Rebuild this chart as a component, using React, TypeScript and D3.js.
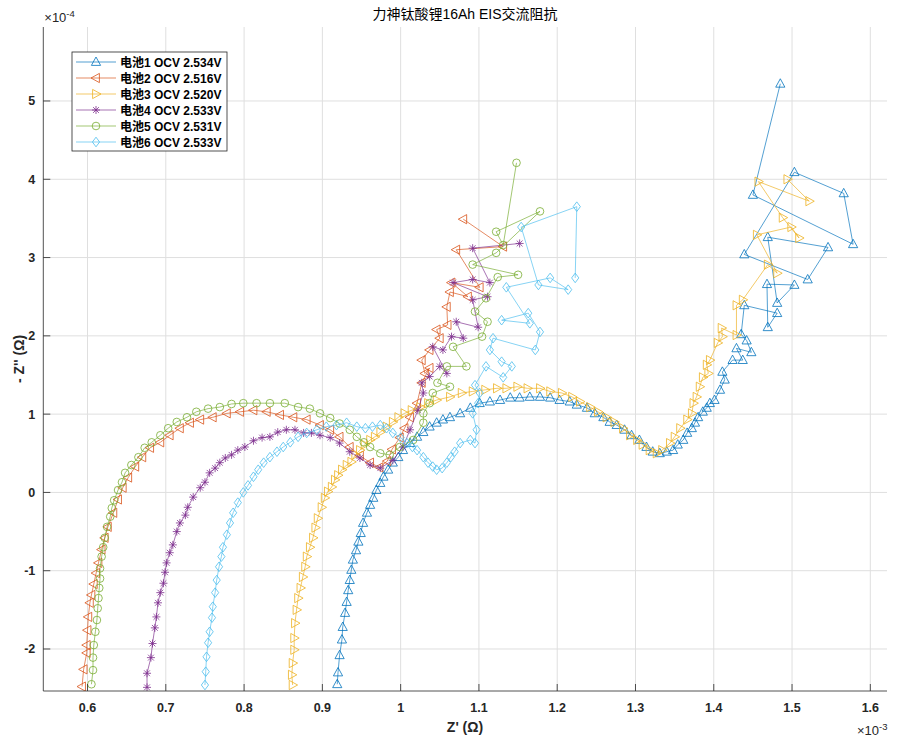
import React, { useRef, useEffect } from 'react';
import * as d3 from 'd3';

// Z' in 1e-3 ohm, -Z'' in 1e-4 ohm
const cell1: [number, number][] = [
  [0.919, -2.45], [0.920, -2.30], [0.922, -2.08], [0.925, -1.88], [0.926, -1.72], [0.929, -1.54], [0.931, -1.40],
  [0.933, -1.25], [0.935, -1.12], [0.937, -0.99], [0.939, -0.86], [0.943, -0.74], [0.946, -0.63], [0.949, -0.52],
  [0.952, -0.39], [0.957, -0.26], [0.961, -0.16], [0.965, -0.07], [0.969, 0.03], [0.974, 0.12], [0.978, 0.20],
  [0.984, 0.29], [0.990, 0.38], [0.997, 0.45], [1.003, 0.54], [1.012, 0.63], [1.021, 0.71], [1.029, 0.77],
  [1.037, 0.84], [1.046, 0.89], [1.054, 0.93], [1.063, 0.96], [1.076, 1.01], [1.089, 1.08], [1.101, 1.14],
  [1.114, 1.16], [1.127, 1.18], [1.140, 1.21], [1.152, 1.21], [1.165, 1.22], [1.178, 1.22], [1.191, 1.21],
  [1.203, 1.18], [1.216, 1.16], [1.225, 1.12], [1.238, 1.08], [1.248, 1.01], [1.259, 0.96], [1.267, 0.90],
  [1.276, 0.86], [1.286, 0.80], [1.295, 0.73], [1.305, 0.67], [1.314, 0.58], [1.322, 0.52], [1.331, 0.50],
  [1.340, 0.52], [1.348, 0.54], [1.354, 0.61], [1.361, 0.67], [1.366, 0.76], [1.372, 0.82], [1.376, 0.89],
  [1.380, 0.96], [1.386, 1.03], [1.391, 1.08], [1.395, 1.14], [1.401, 1.18], [1.408, 1.31], [1.414, 1.44],
  [1.411, 1.54], [1.424, 1.69], [1.437, 1.69], [1.429, 1.84], [1.448, 1.79], [1.442, 1.94], [1.435, 2.02],
  [1.439, 2.39], [1.481, 2.29], [1.469, 2.11], [1.468, 2.66], [1.503, 2.65], [1.481, 2.42], [1.469, 3.26],
  [1.546, 3.13], [1.520, 2.72], [1.439, 3.04], [1.503, 4.09], [1.566, 3.82], [1.578, 3.17], [1.450, 3.80],
  [1.485, 5.22],
];

const cell2: [number, number][] = [
  [0.593, -2.48], [0.595, -2.26], [0.599, -2.05], [0.599, -1.95], [0.600, -1.76], [0.601, -1.59], [0.603, -1.41],
  [0.605, -1.31], [0.608, -1.17], [0.611, -1.03], [0.614, -0.90], [0.618, -0.73], [0.622, -0.58], [0.626, -0.44],
  [0.633, -0.26], [0.639, -0.09], [0.645, 0.06], [0.652, 0.19], [0.661, 0.33], [0.670, 0.45], [0.680, 0.57],
  [0.693, 0.64], [0.705, 0.73], [0.718, 0.82], [0.731, 0.89], [0.744, 0.93], [0.760, 0.96], [0.778, 1.01],
  [0.795, 1.03], [0.812, 1.05], [0.829, 1.03], [0.846, 0.99], [0.863, 0.96], [0.880, 0.93], [0.897, 0.86],
  [0.910, 0.80], [0.922, 0.71], [0.935, 0.58], [0.948, 0.47], [0.961, 0.38], [0.973, 0.32], [0.983, 0.40],
  [0.989, 0.55], [0.999, 0.70], [1.005, 0.82], [1.012, 0.96], [1.021, 1.14], [1.027, 1.40], [1.037, 1.59],
  [1.031, 1.52], [1.027, 1.69], [1.037, 1.82], [1.050, 1.97], [1.046, 2.08], [1.060, 2.14], [1.059, 2.37],
  [1.063, 2.56], [1.086, 2.50], [1.065, 2.68], [1.101, 2.62], [1.071, 3.10], [1.131, 3.14], [1.080, 3.49],
];

const cell3: [number, number][] = [
  [0.862, -2.46], [0.861, -2.33], [0.862, -2.18], [0.864, -2.01], [0.864, -1.86], [0.865, -1.67], [0.867, -1.50],
  [0.869, -1.35], [0.872, -1.22], [0.875, -1.08], [0.878, -0.95], [0.880, -0.82], [0.884, -0.70], [0.888, -0.58],
  [0.891, -0.45], [0.894, -0.33], [0.899, -0.19], [0.903, -0.07], [0.907, 0.01], [0.912, 0.07], [0.916, 0.16],
  [0.920, 0.22], [0.925, 0.29], [0.931, 0.35], [0.937, 0.39], [0.942, 0.48], [0.948, 0.54], [0.954, 0.61],
  [0.961, 0.67], [0.967, 0.71], [0.974, 0.77], [0.982, 0.84], [0.990, 0.90], [0.997, 0.96], [1.005, 1.01],
  [1.014, 1.05], [1.025, 1.09], [1.035, 1.14], [1.046, 1.18], [1.063, 1.22], [1.078, 1.27], [1.092, 1.29],
  [1.108, 1.31], [1.123, 1.33], [1.135, 1.33], [1.149, 1.35], [1.162, 1.33], [1.178, 1.33], [1.191, 1.29],
  [1.206, 1.27], [1.219, 1.22], [1.229, 1.16], [1.242, 1.09], [1.252, 1.03], [1.263, 0.96], [1.273, 0.90],
  [1.284, 0.82], [1.293, 0.73], [1.302, 0.67], [1.309, 0.61], [1.318, 0.54], [1.327, 0.50], [1.334, 0.54],
  [1.344, 0.63], [1.350, 0.71], [1.357, 0.82], [1.366, 0.93], [1.372, 1.01], [1.374, 1.14], [1.378, 1.22],
  [1.382, 1.35], [1.386, 1.47], [1.393, 1.52], [1.391, 1.63], [1.395, 1.69], [1.405, 1.91], [1.411, 1.99],
  [1.410, 2.10], [1.429, 2.01], [1.429, 2.39], [1.437, 2.46], [1.469, 2.91], [1.481, 2.80], [1.455, 3.29],
  [1.499, 3.39], [1.509, 3.25], [1.488, 3.51], [1.457, 3.97], [1.522, 3.72], [1.494, 4.00],
];

const cell4: [number, number][] = [
  [0.676, -2.49], [0.676, -2.31], [0.681, -2.11], [0.683, -1.93], [0.686, -1.73], [0.688, -1.59], [0.690, -1.41],
  [0.693, -1.28], [0.697, -1.16], [0.699, -1.02], [0.701, -0.90], [0.705, -0.77], [0.709, -0.67], [0.714, -0.50],
  [0.718, -0.39], [0.725, -0.29], [0.728, -0.19], [0.735, -0.06], [0.744, 0.06], [0.750, 0.13], [0.756, 0.25],
  [0.763, 0.31], [0.769, 0.38], [0.776, 0.44], [0.784, 0.48], [0.792, 0.54], [0.801, 0.58], [0.812, 0.66],
  [0.823, 0.70], [0.833, 0.71], [0.843, 0.77], [0.854, 0.80], [0.865, 0.80], [0.876, 0.76], [0.886, 0.76],
  [0.897, 0.73], [0.910, 0.70], [0.922, 0.63], [0.935, 0.52], [0.948, 0.44], [0.961, 0.35], [0.974, 0.31],
  [0.990, 0.41], [1.003, 0.58], [1.012, 0.80], [1.022, 1.05], [1.029, 1.27], [1.027, 1.40], [1.037, 1.48],
  [1.050, 1.61], [1.059, 1.52], [1.041, 1.86], [1.054, 1.82], [1.065, 1.99], [1.080, 1.97], [1.071, 2.18],
  [1.099, 2.11], [1.092, 2.46], [1.111, 2.50], [1.067, 2.68], [1.092, 2.72], [1.114, 2.68], [1.092, 3.12],
  [1.152, 3.18],
];

const cell5: [number, number][] = [
  [0.605, -2.45], [0.607, -2.27], [0.607, -2.11], [0.608, -1.95], [0.610, -1.78], [0.612, -1.63], [0.613, -1.48],
  [0.614, -1.35], [0.615, -1.22], [0.616, -1.10], [0.616, -0.97], [0.618, -0.82], [0.620, -0.70], [0.622, -0.58],
  [0.625, -0.44], [0.629, -0.31], [0.631, -0.20], [0.634, -0.10], [0.639, 0.03], [0.644, 0.13], [0.648, 0.25],
  [0.656, 0.35], [0.665, 0.45], [0.673, 0.57], [0.682, 0.64], [0.693, 0.73], [0.703, 0.82], [0.714, 0.90],
  [0.727, 0.96], [0.739, 1.03], [0.754, 1.07], [0.769, 1.09], [0.784, 1.13], [0.799, 1.14], [0.816, 1.14],
  [0.833, 1.14], [0.852, 1.14], [0.869, 1.09], [0.884, 1.07], [0.897, 1.01], [0.910, 0.95], [0.922, 0.88],
  [0.935, 0.80], [0.944, 0.71], [0.953, 0.64], [0.961, 0.58], [0.974, 0.50], [0.986, 0.48], [0.999, 0.58],
  [1.016, 0.67], [1.029, 0.89], [1.029, 1.01], [1.037, 1.14], [1.041, 1.27], [1.063, 1.35], [1.047, 1.40],
  [1.059, 1.61], [1.084, 1.61], [1.067, 1.86], [1.104, 1.99], [1.111, 2.18], [1.095, 2.31], [1.109, 2.48],
  [1.124, 2.75], [1.150, 2.78], [1.092, 2.91], [1.122, 3.06], [1.178, 3.59], [1.122, 3.33], [1.131, 3.16],
  [1.148, 4.21],
];

const cell6: [number, number][] = [
  [0.750, -2.46], [0.751, -2.29], [0.752, -2.10], [0.754, -1.92], [0.756, -1.78], [0.759, -1.60], [0.760, -1.46],
  [0.763, -1.28], [0.765, -1.12], [0.768, -0.95], [0.771, -0.82], [0.773, -0.70], [0.778, -0.54], [0.782, -0.39],
  [0.786, -0.26], [0.792, -0.13], [0.799, 0.00], [0.805, 0.09], [0.812, 0.20], [0.818, 0.29], [0.825, 0.38],
  [0.833, 0.45], [0.842, 0.52], [0.850, 0.58], [0.859, 0.64], [0.869, 0.71], [0.880, 0.76], [0.893, 0.80],
  [0.905, 0.84], [0.918, 0.86], [0.931, 0.89], [0.944, 0.84], [0.955, 0.82], [0.964, 0.84], [0.974, 0.86],
  [0.982, 0.82], [0.990, 0.76], [1.000, 0.70], [1.008, 0.63], [1.015, 0.58], [1.021, 0.54], [1.029, 0.45],
  [1.035, 0.38], [1.041, 0.33], [1.046, 0.29], [1.053, 0.31], [1.059, 0.38], [1.064, 0.45], [1.069, 0.52],
  [1.076, 0.63], [1.089, 0.67], [1.095, 0.63], [1.097, 0.80], [1.092, 1.01], [1.099, 1.14], [1.101, 1.27],
  [1.095, 1.37], [1.109, 1.61], [1.131, 1.47], [1.142, 1.61], [1.129, 1.67], [1.114, 1.82], [1.118, 1.97],
  [1.172, 1.82], [1.178, 2.05], [1.163, 2.29], [1.129, 2.20], [1.165, 2.16], [1.135, 2.62], [1.191, 2.74],
  [1.214, 2.59], [1.176, 2.65], [1.154, 3.39], [1.225, 3.65], [1.223, 2.74],
];

const seriesNames = [
  '电池1 OCV 2.534V',
  '电池2 OCV 2.516V',
  '电池3 OCV 2.520V',
  '电池4 OCV 2.533V',
  '电池5 OCV 2.531V',
  '电池6 OCV 2.533V',
];
const seriesData = [cell1, cell2, cell3, cell4, cell5, cell6];
const seriesColors = ['#0072BD', '#D95319', '#EDB120', '#7E2F8E', '#77AC30', '#4DBEEE'];
const seriesMarkers = ['up', 'left', 'right', 'star', 'circle', 'diamond'];

const xTicks = [0.6, 0.7, 0.8, 0.9, 1.0, 1.1, 1.2, 1.3, 1.4, 1.5, 1.6];
const yTicks = [-2, -1, 0, 1, 2, 3, 4, 5];

const FONT = '"Liberation Sans", Arial, "Noto Sans CJK SC", sans-serif';

function markerPath(kind: string): string {
  switch (kind) {
    case 'up': return 'M0,-5L4.6,3.4L-4.6,3.4Z';
    case 'left': return 'M-5,0L3.4,-4.6L3.4,4.6Z';
    case 'right': return 'M5,0L-3.4,-4.6L-3.4,4.6Z';
    case 'diamond': return 'M0,-4.8L3.6,0L0,4.8L-3.6,0Z';
    case 'star': return 'M-4,0L4,0M0,-4L0,4M-2.9,-2.9L2.9,2.9M-2.9,2.9L2.9,-2.9';
    default: return d3.symbol(d3.symbolCircle, 46)() || '';
  }
}

const App: React.FC = () => {
  const svgRef = useRef<SVGSVGElement | null>(null);

  useEffect(() => {
    if (!svgRef.current) return;
    const width = 900;
    const height = 747;
    const plot = { left: 43.3, right: 887, top: 27, bottom: 691 };

    const x = d3.scaleLinear().domain([0.5435, 1.6213]).range([plot.left, plot.right]);
    const y = d3.scaleLinear().domain([-2.5365, 5.945]).range([plot.bottom, plot.top]);

    const svg = d3.select(svgRef.current);
    svg.selectAll('*').remove();
    svg.attr('width', width).attr('height', height);

    svg.append('rect').attr('width', width).attr('height', height).attr('fill', '#ffffff');

    // grid
    const grid = svg.append('g').attr('stroke', '#dfdfdf').attr('stroke-width', 1);
    xTicks.forEach(t => {
      grid.append('line').attr('x1', x(t)).attr('x2', x(t)).attr('y1', plot.top).attr('y2', plot.bottom);
    });
    yTicks.forEach(t => {
      grid.append('line').attr('x1', plot.left).attr('x2', plot.right).attr('y1', y(t)).attr('y2', y(t));
    });

    // data
    const clip = svg.append('clipPath').attr('id', 'plotclip');
    clip.append('rect').attr('x', plot.left).attr('y', plot.top)
      .attr('width', plot.right - plot.left).attr('height', plot.bottom - plot.top);

    const line = d3.line<[number, number]>().x(d => x(d[0])).y(d => y(d[1]));
    const dataG = svg.append('g').attr('clip-path', 'url(#plotclip)');

    seriesData.forEach((data, i) => {
      const color = seriesColors[i];
      const g = dataG.append('g');
      g.append('path').attr('d', line(data) || '').attr('fill', 'none')
        .attr('stroke', color).attr('stroke-width', 0.8).attr('stroke-opacity', 0.85);
      g.selectAll('path.m').data(data).join('path').attr('class', 'm')
        .attr('d', markerPath(seriesMarkers[i]))
        .attr('transform', d => `translate(${x(d[0])},${y(d[1])})`)
        .attr('fill', 'none').attr('stroke', color).attr('stroke-width', 0.8);
    });

    // axes
    const axisColor = '#262626';
    const axes = svg.append('g').attr('stroke', axisColor).attr('stroke-width', 0.8);
    axes.append('line').attr('x1', plot.left).attr('x2', plot.right).attr('y1', plot.bottom).attr('y2', plot.bottom);
    axes.append('line').attr('x1', plot.left).attr('x2', plot.left).attr('y1', plot.top).attr('y2', plot.bottom);
    xTicks.forEach(t => {
      axes.append('line').attr('x1', x(t)).attr('x2', x(t)).attr('y1', plot.bottom).attr('y2', plot.bottom - 7);
    });
    yTicks.forEach(t => {
      axes.append('line').attr('x1', plot.left).attr('x2', plot.left + 7).attr('y1', y(t)).attr('y2', y(t));
    });

    const txt = svg.append('g').attr('font-family', FONT).attr('fill', axisColor);
    xTicks.forEach(t => {
      txt.append('text').attr('x', x(t)).attr('y', plot.bottom + 21).attr('text-anchor', 'middle')
        .attr('font-size', 12.5).attr('font-weight', 'bold').text(d3.format('~g')(t));
    });
    yTicks.forEach(t => {
      txt.append('text').attr('x', plot.left - 8).attr('y', y(t) + 4.5).attr('text-anchor', 'end')
        .attr('font-size', 12.5).attr('font-weight', 'bold').text(t < 0 ? `-${-t}` : `${t}`);
    });

    // exponents
    const e4 = txt.append('text').attr('x', plot.left + 1).attr('y', 22).attr('font-size', 13);
    e4.append('tspan').text('×10');
    e4.append('tspan').attr('dy', -5).attr('font-size', 9.5).text('-4');
    const e3 = txt.append('text').attr('x', 857).attr('y', 735).attr('font-size', 13);
    e3.append('tspan').text('×10');
    e3.append('tspan').attr('dy', -5).attr('font-size', 9.5).text('-3');

    // labels
    txt.append('text').attr('x', 465).attr('y', 732).attr('text-anchor', 'middle')
      .attr('font-size', 14).attr('font-weight', 'bold').text("Z' (Ω)");
    txt.append('text').attr('transform', `translate(24,${(plot.top + plot.bottom) / 2}) rotate(-90)`)
      .attr('text-anchor', 'middle').attr('font-size', 14).attr('font-weight', 'bold').text("- Z'' (Ω)");
    txt.append('text').attr('x', 465).attr('y', 19).attr('text-anchor', 'middle')
      .attr('font-size', 14).attr('fill', '#000').text('力神钛酸锂16Ah EIS交流阻抗');

    // legend
    const lg = svg.append('g').attr('transform', 'translate(72,52)');
    lg.append('rect').attr('width', 155).attr('height', 99).attr('fill', '#fff')
      .attr('stroke', '#262626').attr('stroke-width', 0.8);
    seriesNames.forEach((name, i) => {
      const yy = 10 + i * 16;
      lg.append('line').attr('x1', 4).attr('x2', 44).attr('y1', yy).attr('y2', yy)
        .attr('stroke', seriesColors[i]).attr('stroke-width', 0.8).attr('stroke-opacity', 0.85);
      lg.append('path').attr('d', markerPath(seriesMarkers[i])).attr('transform', `translate(24,${yy})`)
        .attr('fill', 'none').attr('stroke', seriesColors[i]).attr('stroke-width', 0.8);
      lg.append('text').attr('x', 48).attr('y', yy + 4.5).attr('font-family', FONT)
        .attr('font-size', 12).attr('font-weight', 'bold').attr('fill', '#000').text(name);
    });
  }, []);

  return <svg ref={svgRef} style={{ position: 'absolute', left: 0, top: 0, display: 'block' }} />;
};

export default App;
